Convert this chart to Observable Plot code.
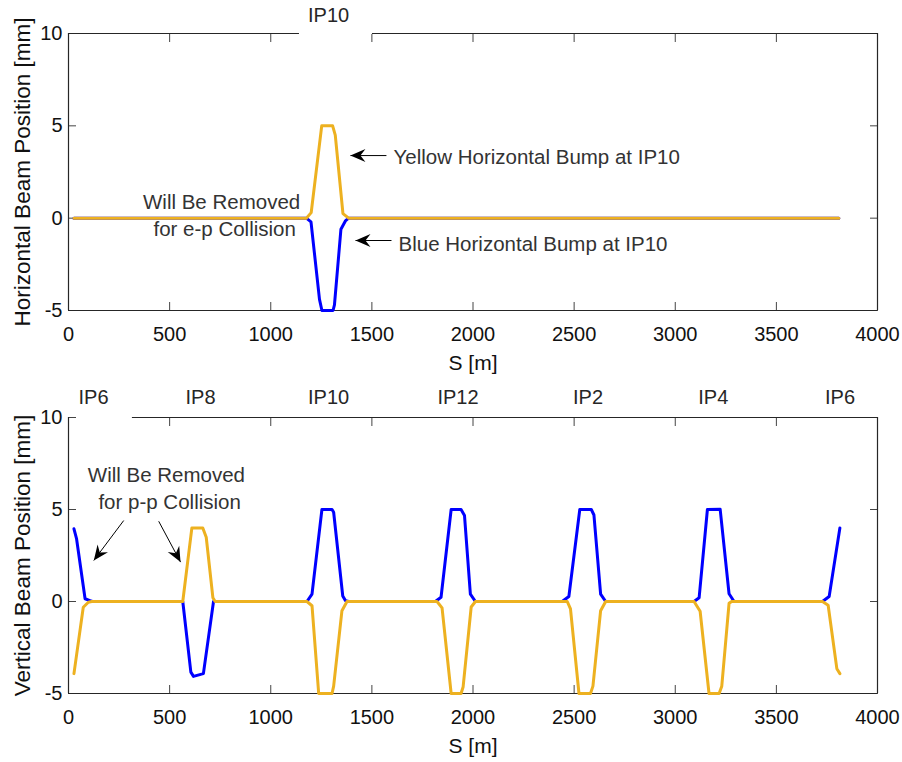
<!DOCTYPE html>
<html>
<head>
<meta charset="utf-8">
<script src="https://cdn.jsdelivr.net/npm/d3@7"></script>
<script src="https://cdn.jsdelivr.net/npm/@observablehq/plot@0.6"></script>
<style>
  html, body { margin: 0; padding: 0; background: #ffffff; }
  #chart { width: 902px; height: 762px; display: flex; flex-direction: column; }
  #chart svg { display: block; }
</style>
</head>
<body>
<div id="chart"></div>
<script>
// ---------- axes ----------
const xTicks = [0, 500, 1000, 1500, 2000, 2500, 3000, 3500, 4000];
const yTicks = [-5, 0, 5, 10];
const xLabel = "S [m]";
const yLabelTop = "Horizontal Beam Position [mm]";
const yLabelBottom = "Vertical Beam Position [mm]";

// ---------- top panel: horizontal orbit ----------
const hYellowS = [27, 1176, 1200, 1252, 1306, 1319, 1357, 1385, 3809];
const hYellowY = [0, 0, 0.3, 5, 5, 4.5, 0.25, 0, 0];
const hBlueS = [27, 1176, 1199, 1241, 1253, 1308, 1315, 1347, 1369, 1385, 3809];
const hBlueY = [0, 0, -0.2, -4.4, -5, -5, -4.7, -0.6, -0.15, 0, 0];

// ---------- bottom panel: vertical orbit ----------
const vBlueS = [27, 40, 82, 106, 118, 565, 605, 618, 667, 717, 1179, 1204, 1253, 1303, 1311, 1356, 1369, 1385,
  1814, 1842, 1892, 1941, 1958, 1987, 2012, 2441, 2474, 2528, 2585, 2598, 2631, 2656,
  3093, 3118, 3159, 3222, 3266, 3291, 3728, 3761, 3814];
const vBlueY = [3.95, 3.4, 0.15, 0.05, 0, 0, -3.84, -4.07, -3.92, 0, 0, 0.4, 5, 5, 4.85, 0.3, 0.05, 0,
  0, 0.23, 5, 5, 4.67, 0.4, 0, 0, 0.27, 5, 5, 4.7, 0.4, 0,
  0, 0.2, 5, 5.02, 0.42, 0, 0, 0.27, 4.0];
const vYellowS = [27, 73, 98, 115, 565, 610, 664, 681, 714, 725, 1179, 1204, 1237, 1303, 1311, 1352, 1377,
  1822, 1847, 1892, 1941, 1951, 1991, 2012, 2466, 2482, 2524, 2581, 2593, 2631, 2656,
  3093, 3123, 3167, 3217, 3230, 3266, 3279, 3728, 3756, 3799, 3814];
const vYellowY = [-3.92, -0.31, -0.04, 0, 0, 4, 4, 3.49, 0.2, 0, 0, -0.23, -5, -5, -4.6, -0.5, 0,
  0, -0.35, -5, -5, -4.65, -0.3, 0, 0, -0.4, -5, -5, -4.6, -0.5, 0,
  0, -0.53, -5, -5, -4.6, -0.1, 0, 0, -0.2, -3.65, -3.92];

// ---------- IP labels ----------
const ipTopNames = ["IP10"];
const ipTopS = [1286];
const ipBottomNames = ["IP6", "IP8", "IP10", "IP12", "IP2", "IP4", "IP6"];
const ipBottomS = [124, 653, 1286, 1926, 2569, 3188, 3815];

// top border pieces (gaps left by the label boxes)
const topBorderTop = [[0, 1142], [1503, 4000]];
const topBorderBottom = [[316, 4000]];

// ---------- annotations ----------
const notesTop = [
  {text: "Will Be Removed", x: 757, y: 0.85, anchor: "middle"},
  {text: "for e-p Collision", x: 772, y: -0.59, anchor: "middle"},
  {text: "Yellow Horizontal Bump at IP10", x: 1607, y: 3.31, anchor: "start"},
  {text: "Blue Horizontal Bump at IP10", x: 1632, y: -1.40, anchor: "start"}
];
const arrowsTop = [
  {x1: 1572, y1: 3.39, x2: 1394, y2: 3.39},
  {x1: 1597, y1: -1.21, x2: 1419, y2: -1.21}
];
const notesBottom = [
  {text: "Will Be Removed", x: 484, y: 6.83, anchor: "middle"},
  {text: "for p-p Collision", x: 500, y: 5.39, anchor: "middle"}
];
const arrowsBottom = [
  {x1: 273, y1: 4.40, x2: 125, y2: 2.23},
  {x1: 446, y1: 4.36, x2: 554, y2: 2.14}
];

const BLUE = "#0000FF";
const YELLOW = "#EDB120";
const AXIS = "#262626";
const FONT = "'Liberation Sans', Arial, Helvetica, sans-serif";

// filled arrowhead pointing to +x with its tip at the origin
const arrowHead = {
  draw(ctx) {
    ctx.moveTo(0, 0);
    ctx.lineTo(-15, -6.5);
    ctx.lineTo(-10, 0);
    ctx.lineTo(-15, 6.5);
    ctx.closePath();
  }
};

function series(s, y) { return s.map((v, i) => ({s: v, y: y[i]})); }

function makePanel(c) {
  const W = 902, ml = 68, mr = 25;
  const kx = (W - ml - mr) / 4000;
  const ky = (c.height - c.mt - c.mb) / 15;
  const heads = c.arrows.map(a => ({
    x: a.x2, y: a.y2,
    angle: Math.atan2(-(a.y2 - a.y1) * ky, (a.x2 - a.x1) * kx) * 180 / Math.PI
  }));
  const ips = c.ipNames.map((n, i) => ({name: n, s: c.ipS[i]}));
  const notesMid = c.notes.filter(d => d.anchor === "middle");
  const notesStart = c.notes.filter(d => d.anchor === "start");
  return Plot.plot({
    width: W, height: c.height,
    marginLeft: ml, marginRight: mr, marginTop: c.mt, marginBottom: c.mb,
    x: {domain: [0, 4000]},
    y: {domain: [-5, 10]},
    style: {fontFamily: FONT, fontSize: "20px", color: AXIS, background: "#ffffff", overflow: "visible"},
    marks: [
      Plot.axisX({anchor: "bottom", ticks: xTicks, tickSize: 0, tickPadding: 16, tickFormat: d => String(d), label: null, fill: "#111", fontSize: 20}),
      Plot.axisY({anchor: "left", ticks: yTicks, tickSize: 0, tickPadding: 6, tickFormat: d => String(d), label: null, fill: "#111", fontSize: 20}),
      Plot.axisX({anchor: "bottom", ticks: xTicks, tickSize: 8, dy: -8, fill: "none", stroke: "#444", label: null}),
      Plot.axisX({anchor: "top", ticks: xTicks, tickSize: 8, dy: 8, fill: "none", stroke: "#444", label: null}),
      Plot.axisY({anchor: "left", ticks: yTicks, tickSize: 8, dx: 8, fill: "none", stroke: "#444", label: null}),
      Plot.axisY({anchor: "right", ticks: yTicks, tickSize: 8, dx: -8, fill: "none", stroke: "#444", label: null}),
      Plot.ruleY([-5], {stroke: AXIS, strokeWidth: 1.2}),
      Plot.ruleX([0], {stroke: AXIS, strokeWidth: 1.2}),
      Plot.ruleX([4000], {stroke: AXIS, strokeWidth: 1.2}),
      Plot.ruleY(c.topBorder, {y: () => 10, x1: d => d[0], x2: d => d[1], stroke: AXIS, strokeWidth: 1.2}),
      Plot.text([xLabel], {text: d => d, frameAnchor: "bottom", dy: 52.3, lineAnchor: "middle", fill: "#111", fontSize: 21}),
      Plot.text([c.yLabel], {text: d => d, frameAnchor: "left", rotate: -90, dx: -46.2, lineAnchor: "middle", textAnchor: "middle", fill: "#111", fontSize: 22.5}),
      Plot.text(ips, {x: "s", y: () => 10, text: "name", dy: c.ipDy, lineAnchor: "middle", fill: AXIS, fontSize: 20}),
      Plot.line(c.blue, {x: "s", y: "y", stroke: BLUE, strokeWidth: 3, strokeLinejoin: "round"}),
      Plot.line(c.yellow, {x: "s", y: "y", stroke: YELLOW, strokeWidth: 3, strokeLinejoin: "round"}),
      Plot.text(notesMid, {x: "x", y: "y", text: "text", textAnchor: "middle", lineAnchor: "middle", fill: "#333", fontSize: 20.5}),
      Plot.text(notesStart, {x: "x", y: "y", text: "text", textAnchor: "start", lineAnchor: "middle", fill: "#333", fontSize: 20.5}),
      Plot.link(c.arrows, {x1: "x1", y1: "y1", x2: "x2", y2: "y2", stroke: "#000", strokeWidth: 1}),
      Plot.dot(heads, {x: "x", y: "y", rotate: "angle", symbol: arrowHead, r: 6, fill: "#000", stroke: "none"})
    ]
  });
}

const topPanel = makePanel({
  height: 380, mt: 33, mb: 70,
  yLabel: yLabelTop,
  ipNames: ipTopNames, ipS: ipTopS, ipDy: -17.5,
  topBorder: topBorderTop,
  blue: series(hBlueS, hBlueY),
  yellow: series(hYellowS, hYellowY),
  notes: notesTop, arrows: arrowsTop
});
const bottomPanel = makePanel({
  height: 382, mt: 37, mb: 69,
  yLabel: yLabelBottom,
  ipNames: ipBottomNames, ipS: ipBottomS, ipDy: -19.7,
  topBorder: topBorderBottom,
  blue: series(vBlueS, vBlueY),
  yellow: series(vYellowS, vYellowY),
  notes: notesBottom, arrows: arrowsBottom
});
document.getElementById("chart").append(topPanel, bottomPanel);
</script>
</body>
</html>
